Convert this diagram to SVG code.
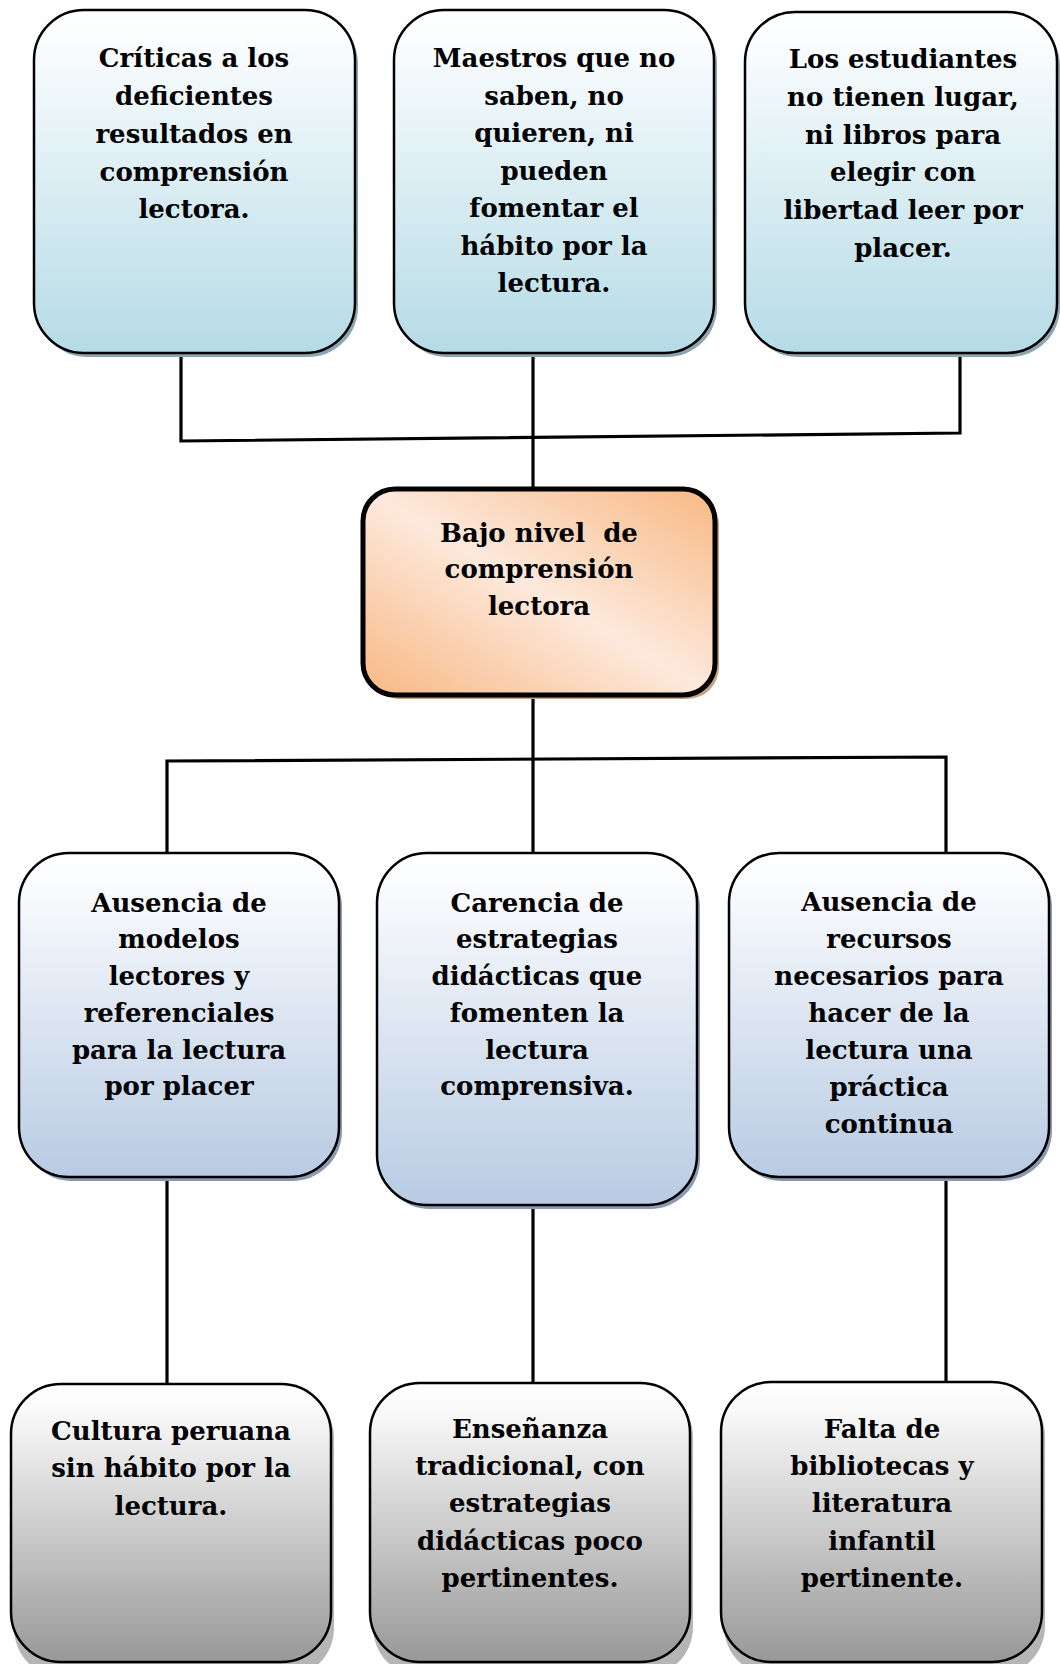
<svg xmlns="http://www.w3.org/2000/svg" width="1060" height="1664" viewBox="0 0 1060 1664">
<defs>
<linearGradient id="gTop" x1="0" y1="0" x2="0" y2="1">
<stop offset="0" stop-color="#ffffff"/>
<stop offset="0.08" stop-color="#fbfdfe"/>
<stop offset="1" stop-color="#b5dbe6"/>
</linearGradient>
<linearGradient id="gMid" x1="0" y1="0" x2="0" y2="1">
<stop offset="0" stop-color="#ffffff"/>
<stop offset="0.08" stop-color="#fbfcfe"/>
<stop offset="1" stop-color="#b8cbe3"/>
</linearGradient>
<linearGradient id="gBot" x1="0" y1="0" x2="0" y2="1">
<stop offset="0" stop-color="#ffffff"/>
<stop offset="0.1" stop-color="#f9f9f9"/>
<stop offset="1" stop-color="#989898"/>
</linearGradient>
<linearGradient id="gCore" x1="0" y1="1" x2="1" y2="0">
<stop offset="0.05" stop-color="#f8bd8c"/>
<stop offset="0.5" stop-color="#fde9dc"/>
<stop offset="0.95" stop-color="#f8bd8c"/>
</linearGradient>
</defs>
<style>
.txt{font-family:"DejaVu Serif","Liberation Serif",serif;font-weight:bold;font-size:26px;fill:#000;text-anchor:middle}
.box{stroke:#000;stroke-width:2.5}
.shT{fill:#8ba5b1}
.shM{fill:#8a9ab0}
.shB{fill:#b5b5b5}
.conn{fill:none;stroke:#000;stroke-width:3.2;stroke-linejoin:miter}
</style>
<rect width="1060" height="1664" fill="#ffffff"/>

<g id="connectors">
<polyline class="conn" points="181,353 181,441 960,433 960,353"/>
<line class="conn" x1="533" y1="353" x2="533" y2="489"/>
<line class="conn" x1="533" y1="695" x2="533" y2="853"/>
<polyline class="conn" points="167,853 167,761 946,757 946,853"/>
<line class="conn" x1="167" y1="1177" x2="167" y2="1384"/>
<line class="conn" x1="533" y1="1205" x2="533" y2="1383"/>
<line class="conn" x1="946" y1="1177" x2="946" y2="1382"/>
</g>

<g id="n-criticas">
<rect class="shT" x="37" y="14" width="321" height="343" rx="50"/>
<rect class="box" x="34" y="10" width="321" height="343" rx="50" fill="url(#gTop)"/>
<text class="txt"><tspan x="194" y="67">Críticas a los</tspan><tspan x="194" y="105">deficientes</tspan><tspan x="194" y="143">resultados en</tspan><tspan x="194" y="181">comprensión</tspan><tspan x="194" y="218">lectora.</tspan></text>
</g>

<g id="n-maestros">
<rect class="shT" x="397" y="14" width="320" height="343" rx="50"/>
<rect class="box" x="394" y="10" width="320" height="343" rx="50" fill="url(#gTop)"/>
<text class="txt"><tspan x="554" y="67">Maestros que no</tspan><tspan x="554" y="105">saben, no</tspan><tspan x="554" y="142">quieren, ni</tspan><tspan x="554" y="180">pueden</tspan><tspan x="554" y="217">fomentar el</tspan><tspan x="554" y="255">hábito por la</tspan><tspan x="554" y="292">lectura.</tspan></text>
</g>

<g id="n-estudiantes">
<rect class="shT" x="748" y="16" width="312" height="341" rx="50"/>
<rect class="box" x="745" y="12" width="312" height="341" rx="50" fill="url(#gTop)"/>
<text class="txt"><tspan x="903" y="68">Los estudiantes</tspan><tspan x="903" y="106">no tienen lugar,</tspan><tspan x="903" y="144">ni libros para</tspan><tspan x="903" y="181">elegir con</tspan><tspan x="903" y="219">libertad leer por</tspan><tspan x="903" y="257">placer.</tspan></text>
</g>

<g id="n-bajo-nivel">
<rect x="367" y="493" width="352" height="206" rx="32" fill="#c8a07e"/>
<rect x="363" y="489" width="352" height="206" rx="32" fill="url(#gCore)" stroke="#000" stroke-width="5"/>
<text class="txt"><tspan x="539" y="542">Bajo nivel&#160; de</tspan><tspan x="539" y="578">comprensión</tspan><tspan x="539" y="615">lectora</tspan></text>
</g>

<g id="n-modelos">
<rect class="shM" x="22" y="857" width="320" height="324" rx="50"/>
<rect class="box" x="19" y="853" width="320" height="324" rx="50" fill="url(#gMid)"/>
<text class="txt"><tspan x="179" y="912">Ausencia de</tspan><tspan x="179" y="948">modelos</tspan><tspan x="179" y="985">lectores y</tspan><tspan x="179" y="1022">referenciales</tspan><tspan x="179" y="1059">para la lectura</tspan><tspan x="179" y="1095">por placer</tspan></text>
</g>

<g id="n-estrategias">
<rect class="shM" x="380" y="857" width="320" height="352" rx="50"/>
<rect class="box" x="377" y="853" width="320" height="352" rx="50" fill="url(#gMid)"/>
<text class="txt"><tspan x="537" y="912">Carencia de</tspan><tspan x="537" y="948">estrategias</tspan><tspan x="537" y="985">didácticas que</tspan><tspan x="537" y="1022">fomenten la</tspan><tspan x="537" y="1059">lectura</tspan><tspan x="537" y="1095">comprensiva.</tspan></text>
</g>

<g id="n-recursos">
<rect class="shM" x="732" y="857" width="320" height="324" rx="50"/>
<rect class="box" x="729" y="853" width="320" height="324" rx="50" fill="url(#gMid)"/>
<text class="txt"><tspan x="889" y="911">Ausencia de</tspan><tspan x="889" y="948">recursos</tspan><tspan x="889" y="985">necesarios para</tspan><tspan x="889" y="1022">hacer de la</tspan><tspan x="889" y="1059">lectura una</tspan><tspan x="889" y="1096">práctica</tspan><tspan x="889" y="1133">continua</tspan></text>
</g>

<g id="n-cultura">
<rect class="shB" x="14" y="1388" width="320" height="290" rx="50"/>
<rect class="box" x="11" y="1384" width="320" height="278" rx="50" fill="url(#gBot)"/>
<text class="txt"><tspan x="171" y="1440">Cultura peruana</tspan><tspan x="171" y="1477">sin hábito por la</tspan><tspan x="171" y="1515">lectura.</tspan></text>
</g>

<g id="n-ensenanza">
<rect class="shB" x="373" y="1387" width="320" height="290" rx="50"/>
<rect class="box" x="370" y="1383" width="320" height="279" rx="50" fill="url(#gBot)"/>
<text class="txt"><tspan x="530" y="1438">Enseñanza</tspan><tspan x="530" y="1475">tradicional, con</tspan><tspan x="530" y="1512">estrategias</tspan><tspan x="530" y="1550">didácticas poco</tspan><tspan x="530" y="1587">pertinentes.</tspan></text>
</g>

<g id="n-bibliotecas">
<rect class="shB" x="724" y="1386" width="321" height="290" rx="50"/>
<rect class="box" x="721" y="1382" width="321" height="280" rx="50" fill="url(#gBot)"/>
<text class="txt"><tspan x="882" y="1438">Falta de</tspan><tspan x="882" y="1475">bibliotecas y</tspan><tspan x="882" y="1512">literatura</tspan><tspan x="882" y="1550">infantil</tspan><tspan x="882" y="1587">pertinente.</tspan></text>
</g>
</svg>
